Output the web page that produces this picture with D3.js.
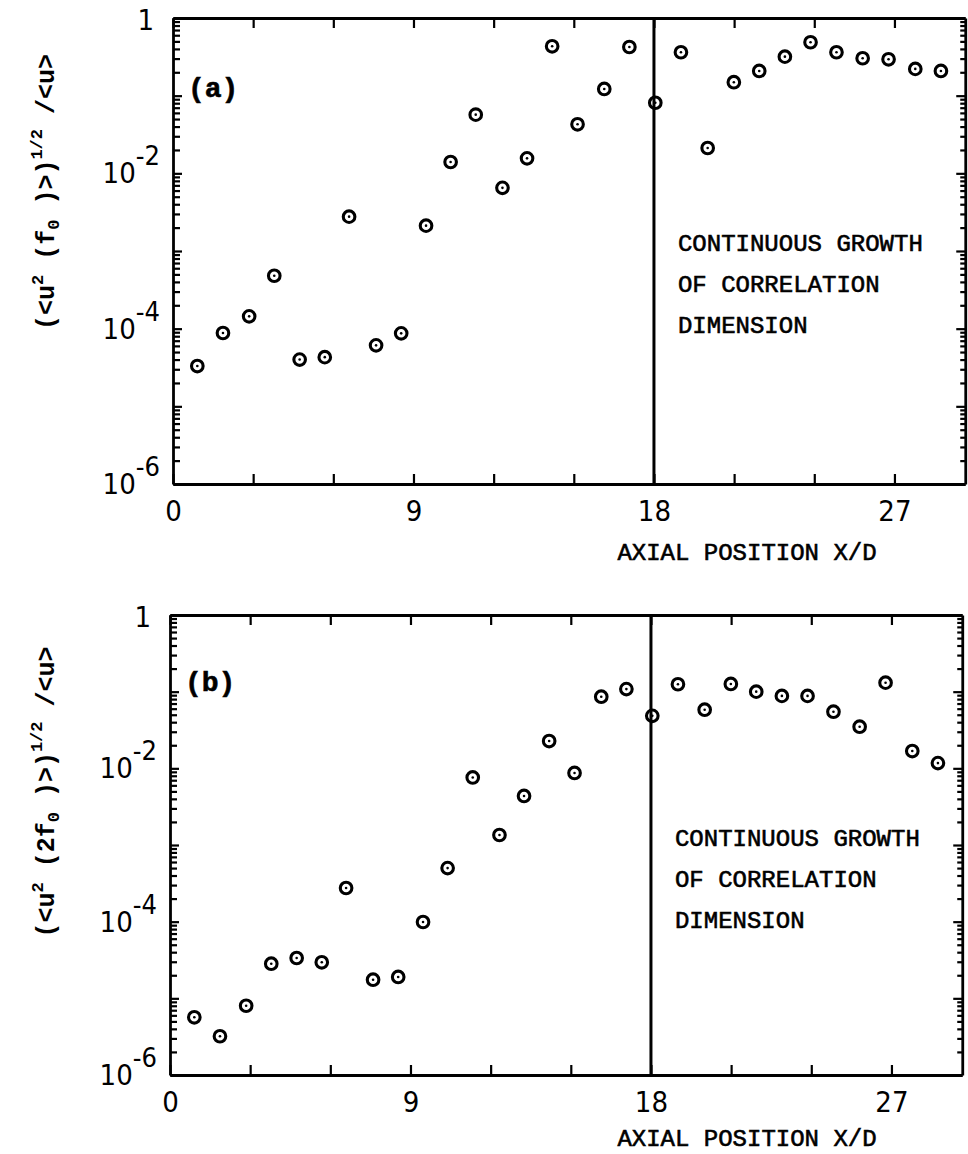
<!DOCTYPE html>
<html><head><meta charset="utf-8">
<script src="https://cdn.jsdelivr.net/npm/d3@7"></script>
<style>
html,body{margin:0;padding:0;background:#fff;}
svg{display:block;}
</style></head>
<body>
<svg id="chart" width="968" height="1154"></svg>
<script>
// ---- data ----
const xPositions = [0.91, 1.87, 2.85, 3.79, 4.74, 5.68, 6.59, 7.60, 8.54, 9.47,
  10.39, 11.33, 12.33, 13.25, 14.19, 15.14, 16.14, 17.08, 18.05, 19.01,
  20.01, 20.99, 21.94, 22.90, 23.86, 24.83, 25.81, 26.78, 27.78, 28.74];
const seriesA = [3.3e-5, 8.8e-5, 1.44e-4, 4.8e-4, 4.0e-5, 4.3e-5, 2.77e-3, 6.1e-5, 8.7e-5, 2.12e-3,
  1.40e-2, 5.7e-2, 6.5e-3, 1.56e-2, 0.432, 4.28e-2, 0.122, 0.423, 8.1e-2, 0.362,
  2.12e-2, 0.149, 0.208, 0.318, 0.487, 0.362, 0.303, 0.294, 0.221, 0.208];
const seriesB = [5.66e-6, 3.2e-6, 8.0e-6, 2.83e-5, 3.36e-5, 2.95e-5, 2.75e-4, 1.75e-5, 1.90e-5, 9.9e-5,
  5.0e-4, 7.6e-3, 1.35e-3, 4.36e-3, 2.27e-2, 8.7e-3, 8.6e-2, 0.108, 4.84e-2, 0.125,
  5.82e-2, 0.126, 0.100, 8.8e-2, 8.8e-2, 5.48e-2, 3.49e-2, 0.131, 1.68e-2, 1.17e-2];
const xTickValues = [0, 3, 6, 9, 12, 15, 18, 21, 24, 27];
const xTickLabels = [0, 9, 18, 27];
const yDecadeExponents = [0, -2, -4, -6];
const xDomain = [0, 29.65];
const yDomain = [1e-6, 1];
const transitionX = 18;
const annotationLines = ["CONTINUOUS GROWTH", "OF CORRELATION", "DIMENSION"];
const xAxisTitle = "AXIAL POSITION X/D";

const panels = [
  {id: "a", label: "(a)", data: seriesA, left: 173, top: 18, bottom: 484, freq: "f", labelY: 192, labelBase: 97, annBase: 251, titleBase: 560},
  {id: "b", label: "(b)", data: seriesB, left: 170, top: 615, bottom: 1075, freq: "2f", labelY: 792, labelBase: 691, annBase: 846, titleBase: 1146}
];

const svg = d3.select("#chart");
const numFont = "'Liberation Sans Narrow','Arial Narrow','DejaVu Sans Condensed',sans-serif";
const monoFont = "'Liberation Mono','Courier New',monospace";

panels.forEach(p => {
  const x = d3.scaleLinear().domain(xDomain).range([p.left, p.left + 26.72 * xDomain[1]]);
  const y = d3.scaleLog().domain(yDomain).range([p.bottom, p.top]);
  const g = svg.append("g");
  const right = x.range()[1];

  // minor/major log ticks
  const logTicks = [];
  for (let e = -6; e <= 0; e++) {
    for (let m = 1; m <= 9; m++) {
      const v = m * Math.pow(10, e);
      if (v <= 1.0000001) logTicks.push(v);
    }
  }
  const isDecade = v => Math.abs(Math.log10(v) - Math.round(Math.log10(v))) < 1e-9;

  // left axis
  const leftAxis = d3.axisLeft(y).tickValues(logTicks).tickFormat("").tickSizeOuter(0).tickSizeInner(-6);
  const la = g.append("g").attr("transform", `translate(${p.left},0)`).call(leftAxis);
  la.selectAll(".tick line").attr("x2", d => isDecade(d) ? 9 : 7);
  // right axis
  const rightAxis = d3.axisRight(y).tickValues(logTicks).tickFormat("").tickSizeOuter(0).tickSizeInner(-6);
  const ra = g.append("g").attr("transform", `translate(${right},0)`).call(rightAxis);
  ra.selectAll(".tick line").attr("x2", d => isDecade(d) ? -9 : -5);

  // bottom axis
  const bottomAxis = d3.axisBottom(x).tickValues(xTickValues)
    .tickFormat(d => xTickLabels.includes(d) ? d : "").tickSizeOuter(0).tickSizeInner(-10).tickPadding(16);
  const ba = g.append("g").attr("transform", `translate(0,${p.bottom})`).call(bottomAxis);
  ba.selectAll("text").attr("font-family", numFont).attr("font-size", 29).attr("fill", "#000");
  // top axis
  const topAxis = d3.axisTop(x).tickValues(xTickValues).tickFormat("").tickSizeOuter(0).tickSizeInner(-10);
  g.append("g").attr("transform", `translate(0,${p.top})`).call(topAxis);

  g.selectAll(".domain").attr("stroke", "#000").attr("stroke-width", 2.8);
  g.selectAll(".tick line").attr("stroke", "#000").attr("stroke-width", 2.2);

  // y tick labels
  yDecadeExponents.forEach(ex => {
    const yy = y(Math.pow(10, ex));
    if (ex === 0) {
      g.append("text").attr("x", p.left - 19).attr("y", yy + 12)
        .attr("text-anchor", "end").attr("font-family", numFont).attr("font-size", 29).text("1");
    } else {
      const t = g.append("text").attr("x", p.left - 13).attr("y", yy + 10)
        .attr("text-anchor", "end").attr("font-family", numFont).attr("font-size", 29);
      t.append("tspan").text("10");
      t.append("tspan").attr("dy", -18).attr("font-size", 27).text("-" + Math.abs(ex));
    }
  });

  // transition line
  g.append("line").attr("x1", x(transitionX)).attr("x2", x(transitionX))
    .attr("y1", p.top).attr("y2", p.bottom).attr("stroke", "#000").attr("stroke-width", 3);

  // points
  const pts = g.append("g").selectAll("g").data(p.data).join("g")
    .attr("transform", (d, i) => `translate(${x(xPositions[i])},${y(d)})`);
  pts.append("circle").attr("r", 5.8).attr("fill", "none").attr("stroke", "#000").attr("stroke-width", 3.1);
  pts.append("circle").attr("r", 1.3).attr("fill", "#000");

  // panel label
  g.append("text").attr("x", p.left + 15).attr("y", p.labelBase)
    .attr("font-family", monoFont).attr("font-weight", "bold").attr("font-size", 28)
    .attr("stroke", "#000").attr("stroke-width", 0.6).text(p.label);

  // annotation
  annotationLines.forEach((s, i) => {
    g.append("text").attr("x", x(transitionX) + 24).attr("y", p.annBase + i * 41)
      .attr("font-family", monoFont).attr("font-size", 24).attr("fill", "#000")
      .attr("stroke", "#000").attr("stroke-width", 0.6).text(s);
  });

  // x axis title
  g.append("text").attr("x", 747).attr("y", p.titleBase).attr("text-anchor", "middle")
    .attr("font-family", monoFont).attr("font-size", 24).attr("fill", "#000")
    .attr("stroke", "#000").attr("stroke-width", 0.6).text(xAxisTitle);

  // y axis title
  const yt = g.append("text").attr("transform", `translate(54,${p.labelY}) rotate(-90)`)
    .attr("text-anchor", "middle").attr("font-family", monoFont).attr("font-weight", "bold").attr("font-size", 25);
  yt.append("tspan").text("(<u");
  yt.append("tspan").attr("dy", -11).attr("font-size", 17).text("2");
  yt.append("tspan").attr("dy", 11).text(" (" + p.freq);
  yt.append("tspan").attr("dy", 5).attr("font-size", 17).text("0");
  yt.append("tspan").attr("dy", -5).text(" )>)");
  yt.append("tspan").attr("dy", -12).attr("font-size", 17).text("1/2");
  yt.append("tspan").attr("dy", 12).text(" /<u>");
});
</script>
</body></html>
